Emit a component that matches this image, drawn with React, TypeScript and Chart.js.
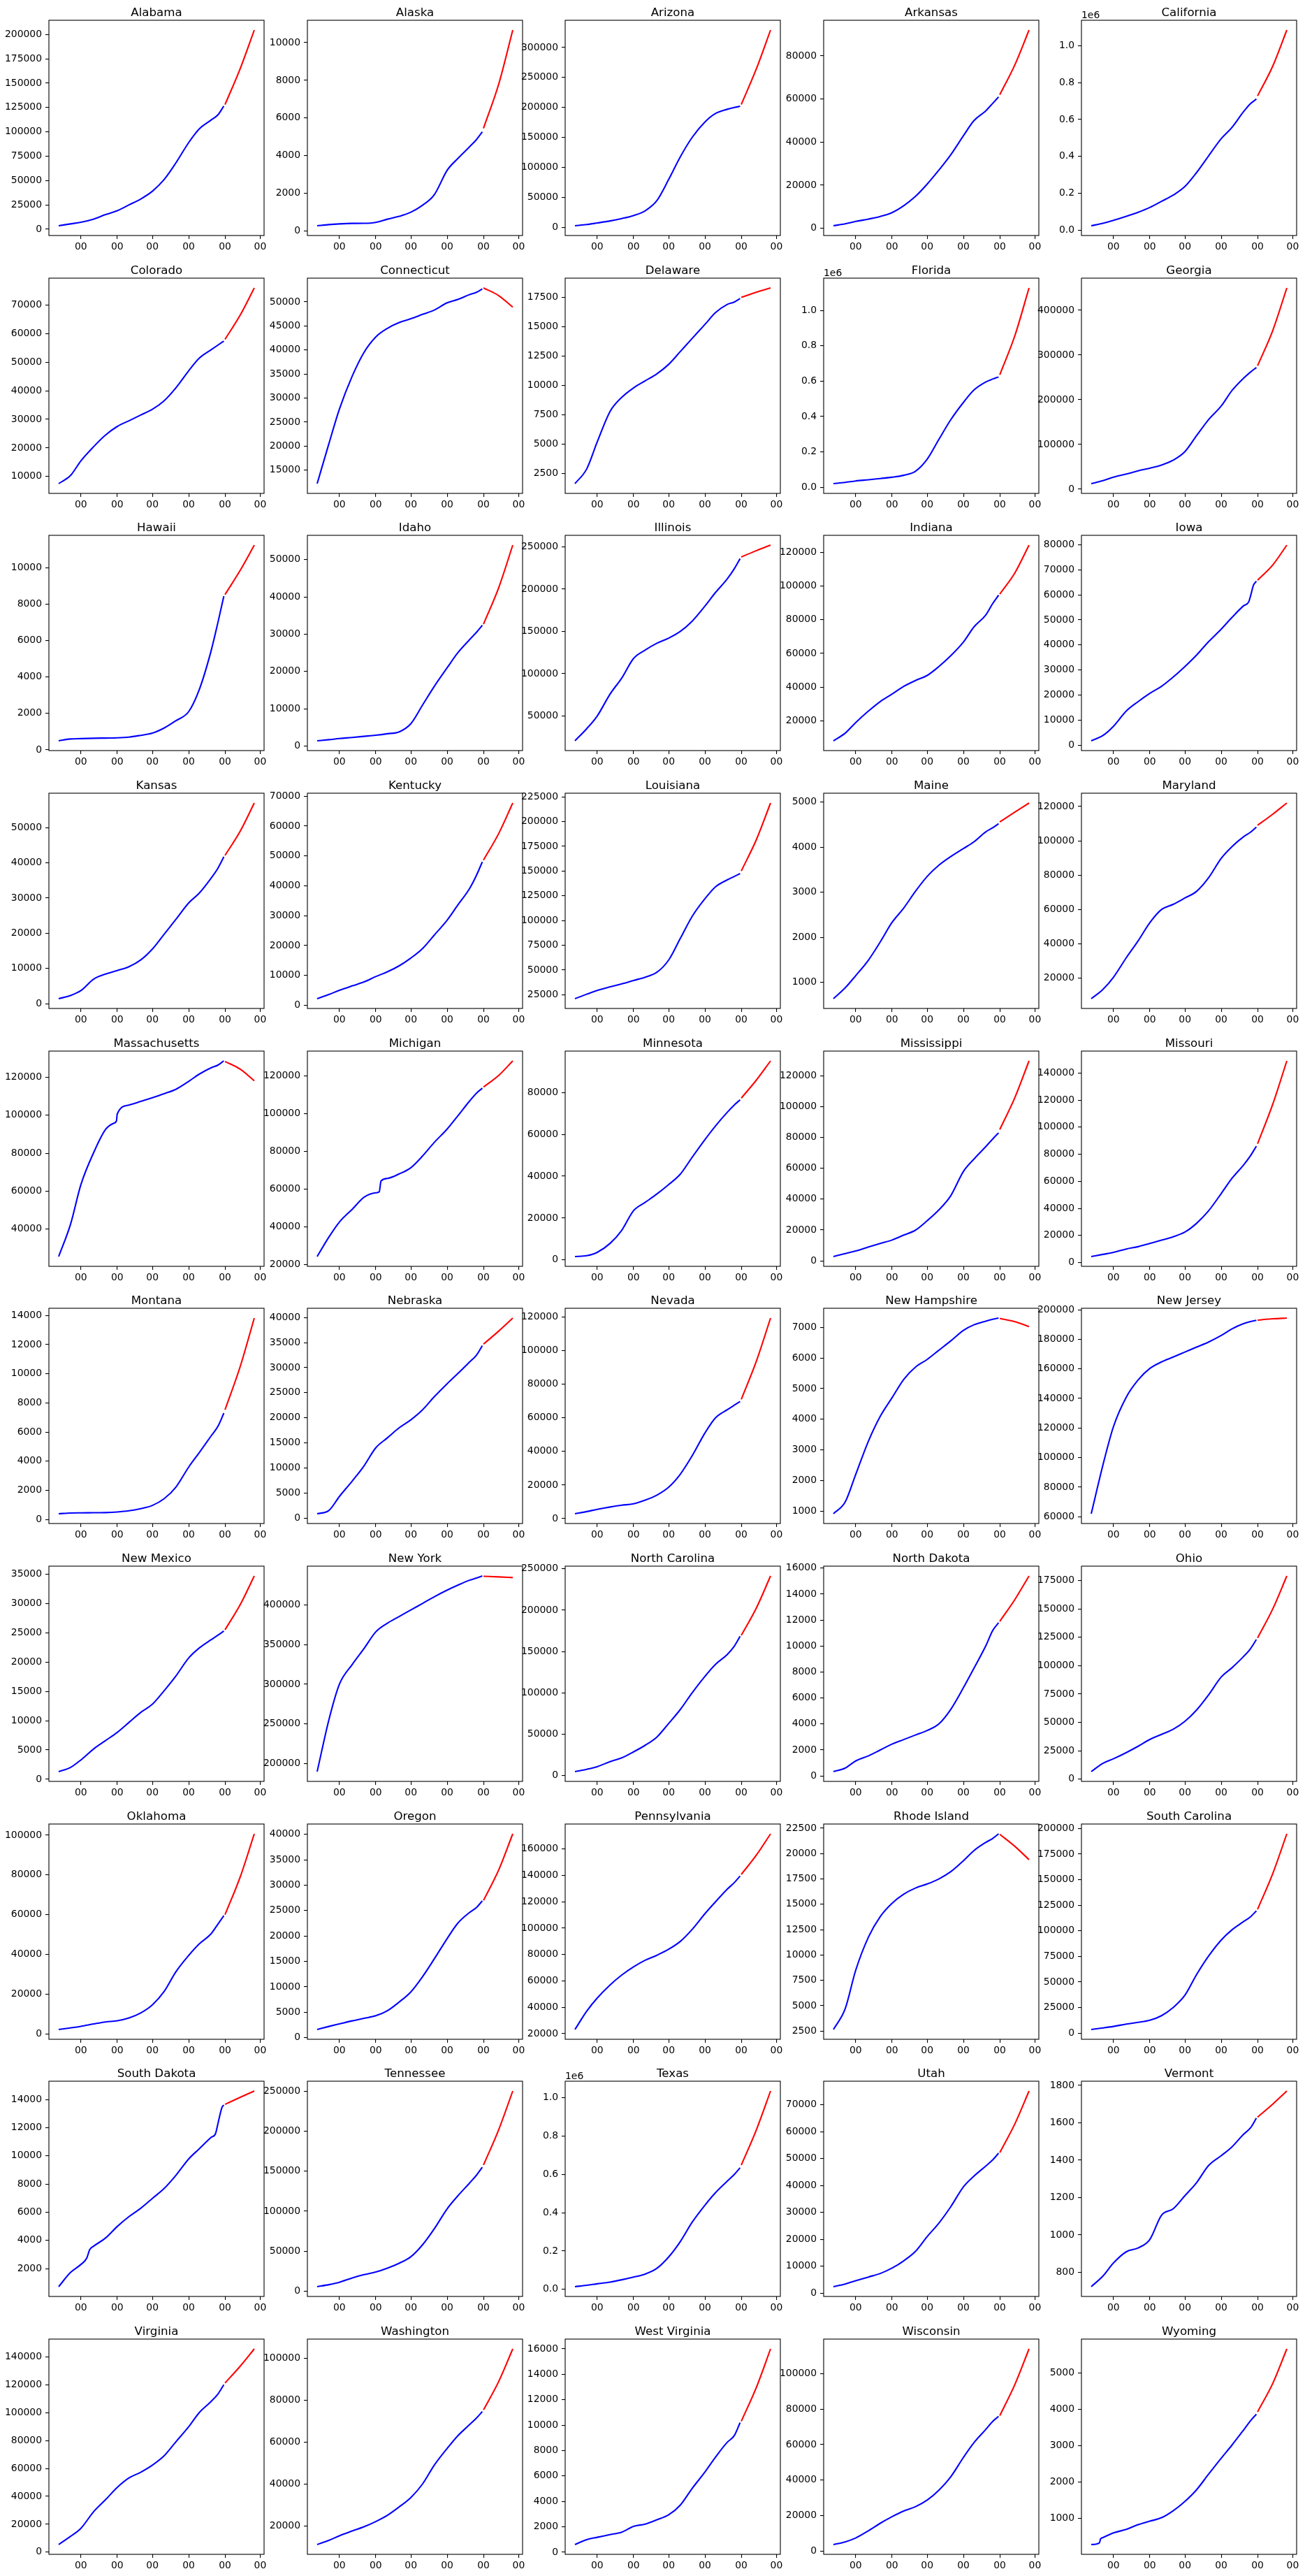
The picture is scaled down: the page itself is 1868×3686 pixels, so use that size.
import React, { useEffect, useRef } from 'react';
import { Chart, registerables } from 'chart.js';

Chart.register(...registerables);

// ---- x axis (days since the first observation) ----
const HIST_DAYS = [0, 10, 19, 30, 40, 50, 60, 70, 80, 90, 100, 111, 120, 130, 136, 141];
const FC_DAYS = [142, 155, 167];
const X_TICKS = [19, 50, 80, 111, 142, 172];
const X_TICK_LABEL = '00';
const X_MIN = -8.35;
const X_MAX = 175.35;

const STATES = [
  'Alabama', 'Alaska', 'Arizona', 'Arkansas', 'California',
  'Colorado', 'Connecticut', 'Delaware', 'Florida', 'Georgia',
  'Hawaii', 'Idaho', 'Illinois', 'Indiana', 'Iowa',
  'Kansas', 'Kentucky', 'Louisiana', 'Maine', 'Maryland',
  'Massachusetts', 'Michigan', 'Minnesota', 'Mississippi', 'Missouri',
  'Montana', 'Nebraska', 'Nevada', 'New Hampshire', 'New Jersey',
  'New Mexico', 'New York', 'North Carolina', 'North Dakota', 'Ohio',
  'Oklahoma', 'Oregon', 'Pennsylvania', 'Rhode Island', 'South Carolina',
  'South Dakota', 'Tennessee', 'Texas', 'Utah', 'Vermont',
  'Virginia', 'Washington', 'West Virginia', 'Wisconsin', 'Wyoming',
];

// ---- historical (blue) and forecast (red) values ----
const AL_HIST = [3600, 5500, 7200, 10500, 15000, 19000, 25000, 31000, 39000, 51000, 68000, 89000, 103000, 112000, 117500, 126500];
const AL_FC = [128000, 165000, 204500];
const AK_HIST = [272, 334, 371, 396, 400, 450, 620, 770, 990, 1360, 1920, 3220, 3840, 4460, 4850, 5260];
const AK_FC = [5450, 7800, 10670];
const AZ_HIST = [3000, 5000, 7600, 11000, 15000, 20000, 28000, 45000, 80000, 118000, 150000, 176000, 190000, 197000, 200000, 202000];
const AZ_FC = [205000, 265000, 329000];
const AR_HIST = [1200, 2100, 3200, 4300, 5500, 7300, 10500, 14800, 20500, 27000, 34000, 43000, 50000, 54500, 58000, 61000];
const AR_FC = [62000, 76000, 92000];
const CA_HIST = [24000, 37000, 53000, 75000, 97000, 123000, 156000, 190000, 237000, 313000, 401000, 496000, 556000, 642000, 686000, 711000];
const CA_FC = [728000, 890000, 1085000];
const CO_HIST = [7500, 10300, 15500, 20500, 24500, 27500, 29500, 31500, 33500, 36500, 41000, 47000, 51400, 54300, 56000, 57400];
const CO_FC = [58000, 66500, 76000];
const CT_HIST = [12200, 20500, 27700, 34600, 39500, 42700, 44500, 45700, 46500, 47400, 48300, 49800, 50500, 51500, 52000, 52700];
const CT_FC = [52900, 51300, 48900];
const DE_HIST = [1660, 2900, 5200, 7800, 9000, 9800, 10400, 11000, 11800, 12900, 14000, 15200, 16200, 16900, 17100, 17400];
const DE_FC = [17500, 17950, 18300];
const FL_HIST = [20000, 27000, 35000, 42000, 49000, 56000, 67000, 90000, 158000, 270000, 380000, 480000, 550000, 595000, 612000, 624000];
const FL_FC = [636000, 860000, 1128000];
const GA_HIST = [12500, 19000, 27000, 34000, 41000, 47000, 54000, 65000, 84000, 120000, 155000, 186000, 220000, 248000, 262000, 272000];
const GA_FC = [276000, 355000, 450000];
const HI_HIST = [500, 600, 620, 640, 650, 660, 700, 800, 920, 1200, 1600, 2100, 3300, 5400, 7000, 8430];
const HI_FC = [8520, 9850, 11230];
const ID_HIST = [1400, 1700, 2000, 2300, 2600, 2900, 3300, 3800, 6000, 11000, 16000, 21000, 25000, 28500, 30500, 32400];
const ID_FC = [32700, 42500, 53900];
const IL_HIST = [20700, 35000, 50000, 76000, 95000, 118000, 128000, 136000, 142000, 150000, 162000, 180000, 196000, 212000, 224000, 236000];
const IL_FC = [238000, 245500, 252000];
const IN_HIST = [8060, 12600, 18900, 25800, 31400, 35800, 40400, 43900, 46900, 52200, 58500, 66800, 75800, 82800, 89700, 94600];
const IN_FC = [95300, 108000, 124400];
const IA_HIST = [1800, 3900, 7600, 13700, 17400, 20700, 23500, 27200, 31400, 36000, 41200, 46300, 50900, 55600, 59500, 65400];
const IA_FC = [65800, 71900, 79800];
const IA_EXTRA = [[134.5, 57200], [138.5, 63800]];
const KS_HIST = [1400, 2300, 3700, 7000, 8400, 9400, 10500, 12400, 15500, 19700, 23900, 28600, 31400, 35600, 38500, 41700];
const KS_FC = [42100, 49000, 57000];
const KY_HIST = [2200, 3600, 5000, 6500, 7800, 9600, 11200, 13200, 15800, 19000, 23500, 28500, 33500, 39000, 43500, 48000];
const KY_FC = [48600, 57500, 67700];
const LA_HIST = [21000, 25500, 29300, 33000, 36000, 39400, 42700, 47700, 60000, 82000, 104000, 122000, 134000, 141000, 144500, 147400];
const LA_FC = [150000, 182000, 218700];
const ME_HIST = [640, 880, 1150, 1500, 1900, 2330, 2650, 3020, 3350, 3600, 3790, 3970, 4120, 4340, 4430, 4520];
const ME_FC = [4560, 4780, 4980];
const MD_HIST = [8100, 13500, 20600, 32000, 41700, 52300, 60000, 63000, 66700, 70600, 78300, 89800, 96500, 102300, 105000, 108000];
const MD_FC = [109000, 115500, 122000];
const MA_HIST = [25500, 42300, 63500, 80500, 92500, 100700, 105400, 107300, 109300, 111400, 113700, 117900, 121700, 125000, 126500, 128700];
const MA_FC = [128400, 124300, 118200];
const MA_EXTRA = [[47, 95800], [49.3, 97000]];
const MI_HIST = [24200, 34500, 42500, 49300, 55600, 58000, 65600, 68000, 71300, 77500, 84700, 91800, 98700, 106500, 110800, 113400];
const MI_FC = [114000, 120200, 127900];
const MI_EXTRA = [[53, 58500], [54.5, 64200]];
const MN_HIST = [1600, 2000, 3600, 7900, 14200, 23500, 27500, 31500, 36000, 41000, 49000, 57500, 64000, 70500, 74000, 76500];
const MN_FC = [77300, 86000, 95100];
const MS_HIST = [2800, 4700, 6400, 9000, 11300, 13500, 16700, 19900, 26000, 33000, 42000, 58000, 66000, 74000, 79000, 83000];
const MS_FC = [85100, 106000, 129600];
const MO_HIST = [4400, 6000, 7500, 10000, 11700, 14100, 16500, 19000, 22500, 29000, 38000, 51000, 62000, 72000, 79000, 86000];
const MO_FC = [87700, 117000, 149000];
const MT_HIST = [400, 450, 460, 470, 480, 520, 600, 750, 970, 1430, 2220, 3600, 4590, 5720, 6400, 7300];
const MT_FC = [7530, 10500, 13820];
const NE_HIST = [850, 1500, 4300, 7400, 10400, 14000, 16000, 18000, 19600, 21600, 24200, 26800, 28800, 31100, 32500, 34400];
const NE_FC = [34700, 37300, 39900];
const NV_HIST = [2900, 4200, 5500, 6900, 8000, 8800, 11000, 14000, 18700, 26500, 37300, 51000, 60000, 64800, 67500, 69700];
const NV_FC = [71000, 94000, 119400];
const NH_HIST = [920, 1300, 2200, 3300, 4100, 4700, 5300, 5700, 5950, 6250, 6550, 6900, 7080, 7200, 7260, 7300];
const NH_FC = [7290, 7180, 7020];
const NJ_HIST = [62000, 95000, 121000, 141000, 152500, 160300, 164700, 168000, 171400, 174800, 178100, 182600, 187000, 190600, 192000, 192900];
const NJ_FC = [193000, 193900, 194400];
const NM_HIST = [1300, 2000, 3300, 5200, 6600, 8000, 9700, 11400, 12800, 15100, 17600, 20700, 22400, 23800, 24600, 25300];
const NM_FC = [25500, 29800, 34700];
const NY_HIST = [189600, 255000, 300000, 325000, 345000, 366000, 377000, 385400, 393800, 402000, 410400, 418800, 425000, 431300, 434000, 436700];
const NY_FC = [436300, 435500, 434600];
const NC_HIST = [4800, 7600, 10800, 16800, 21500, 28700, 36700, 46700, 63000, 80000, 100000, 120000, 134500, 146400, 156400, 168400];
const NC_FC = [169600, 203000, 241400];
const ND_HIST = [330, 600, 1150, 1550, 2000, 2450, 2800, 3150, 3500, 4000, 5100, 6800, 8300, 10000, 11200, 11800];
const ND_FC = [11900, 13600, 15400];
const OH_HIST = [6700, 14000, 18000, 23500, 29000, 35000, 39500, 44000, 51000, 61000, 74000, 90000, 98000, 108000, 115000, 123000];
const OH_FC = [124400, 150000, 179000];
const OK_HIST = [2200, 3000, 3800, 5000, 6000, 6600, 8000, 10500, 14600, 21300, 31200, 39500, 45300, 50300, 55300, 59500];
const OK_FC = [60000, 79000, 100700];
const OR_HIST = [1600, 2200, 2700, 3300, 3800, 4300, 5300, 7000, 9000, 12000, 15500, 19500, 22500, 24600, 25600, 26900];
const OR_FC = [27000, 33000, 40100];
const PA_HIST = [23200, 37000, 47000, 57000, 64500, 70700, 75700, 79500, 84000, 90000, 99000, 111000, 120000, 129500, 134500, 139500];
const PA_FC = [140700, 155500, 171500];
const RI_HIST = [2660, 4700, 8500, 11800, 13800, 15100, 16000, 16600, 17000, 17500, 18200, 19300, 20300, 21100, 21500, 21950];
const RI_FC = [21900, 20700, 19400];
const SC_HIST = [3500, 5000, 6500, 8800, 10500, 12500, 17000, 25000, 37000, 57300, 75000, 91000, 100800, 108900, 113700, 119500];
const SC_FC = [121000, 156000, 194800];
const SD_HIST = [720, 1720, 2300, 3600, 4170, 4990, 5690, 6280, 6980, 7680, 8610, 9780, 10500, 11300, 12300, 13600];
const SD_FC = [13650, 14150, 14600];
const SD_EXTRA = [[24, 2750], [26.5, 3350], [134, 11600], [139.5, 13450]];
const TN_HIST = [5500, 8000, 11000, 16500, 20500, 23800, 28700, 34800, 43000, 58000, 78000, 103000, 119000, 135000, 145000, 155000];
const TN_FC = [157800, 202000, 250400];
const TX_HIST = [14000, 21000, 29000, 38000, 50000, 64000, 80000, 110000, 169000, 250000, 350000, 440000, 505000, 565000, 600000, 635000];
const TX_FC = [649000, 835000, 1036000];
const UT_HIST = [2400, 3400, 4600, 6000, 7300, 9300, 12000, 15500, 21000, 26000, 32000, 39500, 43500, 47200, 49500, 52000];
const UT_FC = [52200, 63000, 75100];
const VT_HIST = [723, 780, 850, 910, 930, 975, 1105, 1140, 1210, 1280, 1370, 1424, 1470, 1538, 1573, 1625];
const VT_FC = [1630, 1700, 1770];
const VA_HIST = [5400, 11200, 17100, 29200, 37600, 46400, 53200, 57300, 62400, 69100, 79100, 90000, 100100, 108000, 113500, 120200];
const VA_FC = [121400, 133500, 145900];
const WA_HIST = [11000, 13000, 15200, 17500, 19500, 22000, 25000, 29000, 33500, 40000, 49000, 57000, 63000, 68300, 71500, 74600];
const WA_FC = [75400, 89000, 104600];
const WV_HIST = [600, 990, 1170, 1380, 1580, 2030, 2210, 2550, 2940, 3710, 5010, 6310, 7480, 8650, 9170, 10200];
const WV_FC = [10300, 13000, 16000];
const WI_HIST = [3700, 5200, 7400, 11500, 15700, 19400, 22600, 25000, 28700, 34300, 41700, 52800, 61100, 68500, 73100, 75900];
const WI_FC = [76300, 94000, 113900];
const WY_HIST = [273, 466, 595, 691, 820, 916, 1013, 1206, 1463, 1785, 2203, 2653, 3006, 3424, 3682, 3862];
const WY_FC = [3926, 4711, 5662];
const WY_EXTRA = [[7, 320], [8, 430]];

const HIST = [
  AL_HIST, AK_HIST, AZ_HIST, AR_HIST, CA_HIST, CO_HIST, CT_HIST, DE_HIST, FL_HIST, GA_HIST,
  HI_HIST, ID_HIST, IL_HIST, IN_HIST, IA_HIST, KS_HIST, KY_HIST, LA_HIST, ME_HIST, MD_HIST,
  MA_HIST, MI_HIST, MN_HIST, MS_HIST, MO_HIST, MT_HIST, NE_HIST, NV_HIST, NH_HIST, NJ_HIST,
  NM_HIST, NY_HIST, NC_HIST, ND_HIST, OH_HIST, OK_HIST, OR_HIST, PA_HIST, RI_HIST, SC_HIST,
  SD_HIST, TN_HIST, TX_HIST, UT_HIST, VT_HIST, VA_HIST, WA_HIST, WV_HIST, WI_HIST, WY_HIST,
];
const FC = [
  AL_FC, AK_FC, AZ_FC, AR_FC, CA_FC, CO_FC, CT_FC, DE_FC, FL_FC, GA_FC,
  HI_FC, ID_FC, IL_FC, IN_FC, IA_FC, KS_FC, KY_FC, LA_FC, ME_FC, MD_FC,
  MA_FC, MI_FC, MN_FC, MS_FC, MO_FC, MT_FC, NE_FC, NV_FC, NH_FC, NJ_FC,
  NM_FC, NY_FC, NC_FC, ND_FC, OH_FC, OK_FC, OR_FC, PA_FC, RI_FC, SC_FC,
  SD_FC, TN_FC, TX_FC, UT_FC, VT_FC, VA_FC, WA_FC, WV_FC, WI_FC, WY_FC,
];
// extra [day, value] points where the history has a sharp step
const EXTRAS: Record<string, number[][]> = {
  Iowa: IA_EXTRA,
  Massachusetts: MA_EXTRA,
  Michigan: MI_EXTRA,
  'South Dakota': SD_EXTRA,
  Wyoming: WY_EXTRA,
};

// y tick spacing per state (tick labels are multiples of it)
const Y_STEPS = [
  25000, 2000, 50000, 20000, 200000, 10000, 5000, 2500, 200000, 100000,
  2000, 10000, 50000, 20000, 10000, 10000, 10000, 25000, 1000, 20000,
  20000, 20000, 20000, 20000, 20000, 2000, 5000, 20000, 1000, 20000,
  5000, 50000, 50000, 2000, 25000, 20000, 5000, 20000, 2500, 25000,
  2000, 50000, 200000, 10000, 200, 20000, 20000, 2000, 20000, 1000,
];
const SCI_STATES = ['California', 'Florida', 'Texas'];
const SCI_LABEL = '1e6';

// ---- layout ----
const COLS = 5;
const COL_W = 369.5;
const ROW_H = 368.67;
const AX_LEFT = 70;
const AX_TOP = 29;
const AX_SIZE = 308;
const CANVAS_W = 392;
const CANVAS_H = 369;
const FONT = '"DejaVu Sans", "Liberation Sans", sans-serif';

const framePlugin = {
  id: 'panelFrame',
  afterDraw(chart: any, _args: any, opts: any) {
    const { ctx, chartArea } = chart;
    const { left, top, right, bottom } = chartArea;
    ctx.save();
    ctx.strokeStyle = '#000';
    ctx.lineWidth = 1.1;
    ctx.strokeRect(left, top, right - left, bottom - top);
    ctx.fillStyle = '#000';
    ctx.font = `16.67px ${FONT}`;
    ctx.textAlign = 'center';
    ctx.textBaseline = 'alphabetic';
    ctx.fillText(opts.title, (left + right) / 2, top - 6.5);
    if (opts.sci) {
      ctx.font = `13.9px ${FONT}`;
      ctx.textAlign = 'left';
      ctx.fillText(SCI_LABEL, left, top - 3);
    }
    ctx.restore();
  },
};

function Panel({ index }: { index: number }) {
  const ref = useRef<HTMLCanvasElement | null>(null);
  const name = STATES[index];
  const col = index % COLS;
  const row = Math.floor(index / COLS);

  useEffect(() => {
    if (!ref.current) return;
    const hist = HIST[index];
    const fc = FC[index];
    const extra = EXTRAS[name] || [];
    const histPts = hist
      .map((y, i) => ({ x: HIST_DAYS[i], y }))
      .concat(extra.map(([x, y]) => ({ x, y })))
      .sort((a, b) => a.x - b.x);
    const fcPts = fc.map((y, i) => ({ x: FC_DAYS[i], y }));
    const all = histPts.map((p) => p.y).concat(fc);
    const dmin = Math.min(...all);
    const dmax = Math.max(...all);
    const pad = (dmax - dmin) * 0.05;
    const yMin = dmin - pad;
    const yMax = dmax + pad;
    const step = Y_STEPS[index];
    const sci = SCI_STATES.includes(name);
    const yTicks: number[] = [];
    for (let k = Math.ceil(yMin / step); k * step <= yMax; k++) yTicks.push(k * step);

    const tickFont = { size: 13.9, family: FONT };
    const chart = new Chart(ref.current, {
      type: 'line',
      data: {
        datasets: [
          {
            data: histPts,
            borderColor: '#0000ff',
            borderWidth: 2.1,
            pointRadius: 0,
            cubicInterpolationMode: 'monotone',
            fill: false,
          },
          {
            data: fcPts,
            borderColor: '#ff0000',
            borderWidth: 2.1,
            pointRadius: 0,
            cubicInterpolationMode: 'monotone',
            fill: false,
          },
        ],
      },
      options: {
        responsive: false,
        animation: false,
        devicePixelRatio: 1,
        layout: { padding: { left: 0, top: AX_TOP, right: CANVAS_W - AX_LEFT - AX_SIZE, bottom: 0 } },
        plugins: {
          legend: { display: false },
          tooltip: { enabled: false },
          title: { display: false },
          panelFrame: { title: name, sci },
        } as any,
        scales: {
          x: {
            type: 'linear',
            min: X_MIN,
            max: X_MAX,
            afterBuildTicks: (s: any) => {
              s.ticks = X_TICKS.map((v) => ({ value: v }));
            },
            afterFit: (s: any) => {
              s.height = CANVAS_H - AX_TOP - AX_SIZE;
            },
            ticks: {
              callback: () => X_TICK_LABEL,
              autoSkip: false,
              maxRotation: 0,
              minRotation: 0,
              color: '#000',
              font: tickFont,
              padding: 3,
            },
            grid: { drawOnChartArea: false, drawTicks: true, tickLength: 5, color: '#000', lineWidth: 1.1 },
            border: { display: false },
          },
          y: {
            type: 'linear',
            min: yMin,
            max: yMax,
            afterBuildTicks: (s: any) => {
              s.ticks = yTicks.map((v) => ({ value: v }));
            },
            afterFit: (s: any) => {
              s.width = AX_LEFT;
            },
            ticks: {
              callback: (v: any) => (sci ? (Number(v) / 1e6).toFixed(1) : String(Math.round(Number(v)))),
              autoSkip: false,
              color: '#000',
              font: tickFont,
              padding: 5,
            },
            grid: { drawOnChartArea: false, drawTicks: true, tickLength: 5, color: '#000', lineWidth: 1.1 },
            border: { display: false },
          },
        },
      } as any,
      plugins: [framePlugin],
    });
    return () => chart.destroy();
  }, [index]);

  return (
    <canvas
      ref={ref}
      width={CANVAS_W}
      height={CANVAS_H}
      style={{
        position: 'absolute',
        left: Math.round(col * COL_W),
        top: Math.round(row * ROW_H),
        width: CANVAS_W,
        height: CANVAS_H,
      }}
    />
  );
}

export default function App() {
  return (
    <div
      style={{
        position: 'absolute',
        left: 0,
        top: 0,
        width: 1868,
        height: 3686,
        background: '#fff',
        overflow: 'hidden',
      }}
    >
      {STATES.map((_, i) => (
        <Panel key={i} index={i} />
      ))}
    </div>
  );
}
